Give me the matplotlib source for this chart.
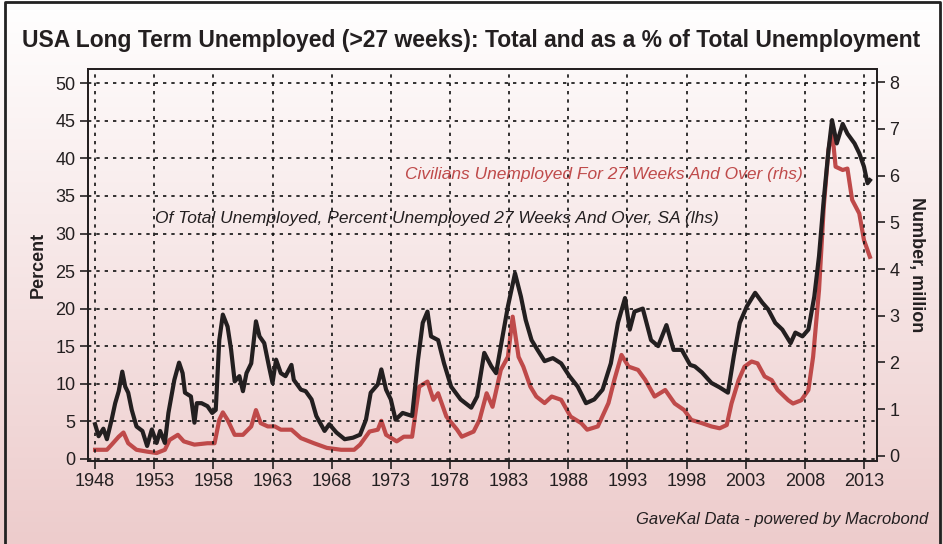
import numpy as np
import matplotlib.pyplot as plt
from matplotlib import font_manager

# pick a narrow font if available
names = {f.name for f in font_manager.fontManager.ttflist}
FONT = 'Liberation Sans Narrow' if 'Liberation Sans Narrow' in names else 'Liberation Sans'
plt.rcParams['font.family'] = [FONT, 'DejaVu Sans']

# ==========================================
# Data
# ==========================================
pct_years = [1948.0, 1948.3, 1948.7, 1949.0, 1949.4, 1949.7, 1950.0, 1950.3, 1950.55, 1950.8,
             1951.1, 1951.5, 1952.0, 1952.4, 1952.8, 1953.2, 1953.5, 1953.9, 1954.2, 1954.7,
             1955.1, 1955.4, 1955.6, 1956.1, 1956.4, 1956.6, 1957.0, 1957.5, 1957.9, 1958.2,
             1958.5, 1958.8, 1959.2, 1959.5, 1959.8, 1960.2, 1960.5, 1960.8, 1961.2, 1961.6,
             1961.9, 1962.3, 1962.7, 1963.0, 1963.3, 1963.7, 1964.1, 1964.6, 1964.8, 1965.4,
             1965.8, 1966.3, 1966.7, 1967.4, 1967.8, 1968.4, 1969.1, 1969.8, 1970.4, 1970.9,
             1971.3, 1971.9, 1972.2, 1972.6, 1973.0, 1973.4, 1974.0, 1974.8, 1975.3, 1975.7,
             1976.1, 1976.4, 1977.0, 1977.5, 1978.1, 1978.9, 1979.8, 1980.3, 1980.9, 1981.5,
             1981.9, 1982.3, 1982.9, 1983.5, 1984.0, 1984.4, 1984.9, 1985.4, 1986.0, 1986.7,
             1987.4, 1988.1, 1988.8, 1989.5, 1990.2, 1990.9, 1991.6, 1992.2, 1992.8, 1993.2,
             1993.6, 1994.3, 1995.0, 1995.6, 1996.3, 1996.9, 1997.6, 1998.3, 1998.7, 1999.3,
             2000.1, 2000.8, 2001.5, 2002.0, 2002.5, 2003.1, 2003.8, 2004.4, 2004.9, 2005.5,
             2006.1, 2006.8, 2007.2, 2007.8, 2008.3, 2008.8, 2009.2, 2009.6, 2010.0, 2010.3,
             2010.7, 2011.2, 2011.6, 2012.2, 2012.6, 2013.0, 2013.3, 2013.5]
pct_values = [4.6, 3.0, 4.0, 2.6, 5.2, 7.4, 9.0, 11.6, 9.6, 8.8,
              6.5, 4.3, 3.7, 1.7, 3.9, 2.1, 3.7, 2.1, 6.1, 10.5,
              12.8, 11.4, 8.8, 8.3, 4.8, 7.4, 7.4, 7.0, 6.1, 6.5,
              15.8, 19.2, 17.6, 14.5, 10.3, 11.0, 9.0, 11.4, 12.7, 18.3,
              16.3, 15.4, 12.3, 10.1, 13.2, 11.4, 11.0, 12.5, 10.5, 9.2,
              9.0, 7.9, 5.7, 3.7, 4.6, 3.5, 2.6, 2.8, 3.2, 5.2,
              8.8, 9.9, 11.9, 9.2, 7.9, 5.2, 6.1, 5.7, 13.2, 18.1,
              19.6, 16.3, 15.8, 12.7, 9.6, 7.9, 6.8, 8.3, 14.1, 12.3,
              11.4, 15.0, 20.3, 24.7, 21.6, 18.5, 15.8, 14.5, 13.0, 13.4,
              12.7, 11.0, 9.6, 7.4, 7.9, 9.2, 12.7, 18.1, 21.4, 17.2,
              19.6, 20.0, 15.8, 15.0, 17.8, 14.5, 14.5, 12.5, 12.3, 11.5,
              10.1, 9.5, 8.8, 13.7, 18.1, 20.3, 22.1, 20.8, 19.9, 18.1,
              17.2, 15.4, 16.8, 16.3, 17.2, 21.6, 27.0, 34.5, 41.1, 45.1,
              42.0, 44.6, 43.3, 42.0, 40.7, 38.9, 36.7, 37.1]

num_years = [1948.0, 1949.0, 1949.4, 1950.0, 1950.4, 1950.8, 1951.5, 1952.4, 1953.2, 1953.9,
             1954.3, 1955.0, 1955.5, 1956.4, 1957.5, 1958.1, 1958.5, 1958.8, 1959.2, 1959.8,
             1960.5, 1961.2, 1961.6, 1962.0, 1962.6, 1963.2, 1963.7, 1964.6, 1965.4, 1966.5,
             1967.6, 1968.8, 1969.9, 1970.4, 1971.2, 1971.9, 1972.2, 1972.6, 1973.5, 1974.1,
             1974.8, 1975.4, 1976.1, 1976.6, 1977.0, 1977.7, 1978.6, 1979.0, 1980.0, 1980.5,
             1981.1, 1981.6, 1982.3, 1982.9, 1983.3, 1983.8, 1984.2, 1984.8, 1985.3, 1986.0,
             1986.6, 1987.4, 1988.2, 1989.1, 1989.6, 1990.5, 1991.4, 1991.9, 1992.5, 1993.1,
             1993.9, 1994.5, 1995.3, 1996.2, 1997.0, 1997.8, 1998.4, 1999.3, 2000.1, 2000.8,
             2001.4, 2001.8, 2002.4, 2002.9, 2003.5, 2004.0, 2004.6, 2005.2, 2005.7, 2006.6,
             2007.0, 2007.7, 2008.3, 2008.7, 2009.2, 2009.6, 2010.0, 2010.3, 2010.6, 2011.2,
             2011.6, 2012.0, 2012.6, 2013.0, 2013.5]
num_values = [0.13, 0.13, 0.24, 0.41, 0.50, 0.27, 0.13, 0.09, 0.06, 0.13,
              0.34, 0.45, 0.31, 0.24, 0.27, 0.27, 0.77, 0.93, 0.77, 0.45,
              0.45, 0.63, 0.98, 0.70, 0.63, 0.63, 0.56, 0.56, 0.38, 0.27,
              0.17, 0.13, 0.13, 0.24, 0.52, 0.56, 0.75, 0.45, 0.31, 0.41,
              0.41, 1.48, 1.59, 1.20, 1.34, 0.84, 0.56, 0.41, 0.52, 0.77,
              1.34, 1.05, 1.84, 2.12, 2.98, 2.12, 1.91, 1.48, 1.27, 1.13,
              1.27, 1.20, 0.84, 0.70, 0.56, 0.63, 1.13, 1.63, 2.16, 1.91,
              1.84, 1.63, 1.27, 1.41, 1.12, 0.98, 0.77, 0.70, 0.63, 0.59,
              0.66, 1.12, 1.62, 1.91, 2.02, 1.98, 1.70, 1.62, 1.41, 1.19,
              1.12, 1.19, 1.41, 2.12, 3.55, 5.33, 6.55, 6.97, 6.19, 6.12,
              6.15, 5.48, 5.19, 4.62, 4.26]

x_ticks = list(range(1948, 2014, 5))
left_ticks = list(range(0, 51, 5))
right_ticks = list(range(0, 9))

BLACK = '#231f20'
RED = '#bf4a4a'

# ==========================================
# Figure + gradient background
# ==========================================
fig = plt.figure(figsize=(9.43, 5.44), dpi=100)
bg = fig.add_axes([0, 0, 1, 1], zorder=-10)
grad = np.linspace(0, 1, 256).reshape(-1, 1)
top_c = np.array([1.0, 1.0, 1.0])
bot_c = np.array([0.93, 0.80, 0.80])
img = top_c + (bot_c - top_c) * grad[:, :, None]
bg.imshow(img, aspect='auto', extent=[0, 1, 0, 1], origin='upper')
bg.plot([0.005, 0.005, 0.997, 0.997], [0, 0.996, 0.996, 0], color='#222222', lw=2,
        transform=bg.transAxes, clip_on=False)
bg.set_xlim(0, 1)
bg.set_ylim(0, 1)
bg.axis('off')

fig.text(0.5, 0.925, 'USA Long Term Unemployed (>27 weeks): Total and as a % of Total Unemployment',
         ha='center', va='center', fontsize=16.5, fontweight='bold', color=BLACK)

ax = fig.add_axes([0.0933, 0.1526, 0.8367, 0.7204])
ax.patch.set_alpha(0)
ax2 = ax.twinx()

ax.plot(pct_years, pct_values, color=BLACK, lw=3, zorder=3)
ax2.plot(num_years, num_values, color=RED, lw=3, zorder=2)
ax.set_zorder(ax2.get_zorder() + 1)
ax.patch.set_visible(False)

ax.set_xlim(1947.4, 2014.1)
ax.set_ylim(-0.3, 51.9)
ax2.set_ylim(-0.11, 8.28)

ax.set_xticks(x_ticks)
ax.set_yticks(left_ticks)
ax2.set_yticks(right_ticks)

ax.grid(True, color='#111111', linestyle=(0, (2, 3)), linewidth=1.2)
ax.tick_params(axis='both', direction='out', length=6, width=1.2, labelsize=13,
               colors=BLACK, pad=3)
ax2.tick_params(axis='y', direction='out', length=6, width=1.2, labelsize=13,
                colors=BLACK, pad=3)
for a in (ax, ax2):
    for s in a.spines.values():
        s.set_linewidth(1.3)
        s.set_color(BLACK)

ax.set_ylabel('Percent', fontsize=13, fontweight='bold', color=BLACK, labelpad=6)
ax2.set_ylabel('Number, million', fontsize=13, fontweight='bold', color=BLACK,
               rotation=-90, labelpad=18)

ax.text(1974.2, 37.9, 'Civilians Unemployed For 27 Weeks And Over (rhs)',
        color=RED, fontsize=12.5, style='italic', va='center', ha='left')
ax.text(1953.1, 32.0, 'Of Total Unemployed, Percent Unemployed 27 Weeks And Over, SA (lhs)',
        color=BLACK, fontsize=12.5, style='italic', va='center', ha='left')

fig.text(0.984, 0.045, 'GaveKal Data - powered by Macrobond', ha='right', va='center',
         fontsize=12, style='italic', color=BLACK)

fig.savefig('out.png', dpi=100)
